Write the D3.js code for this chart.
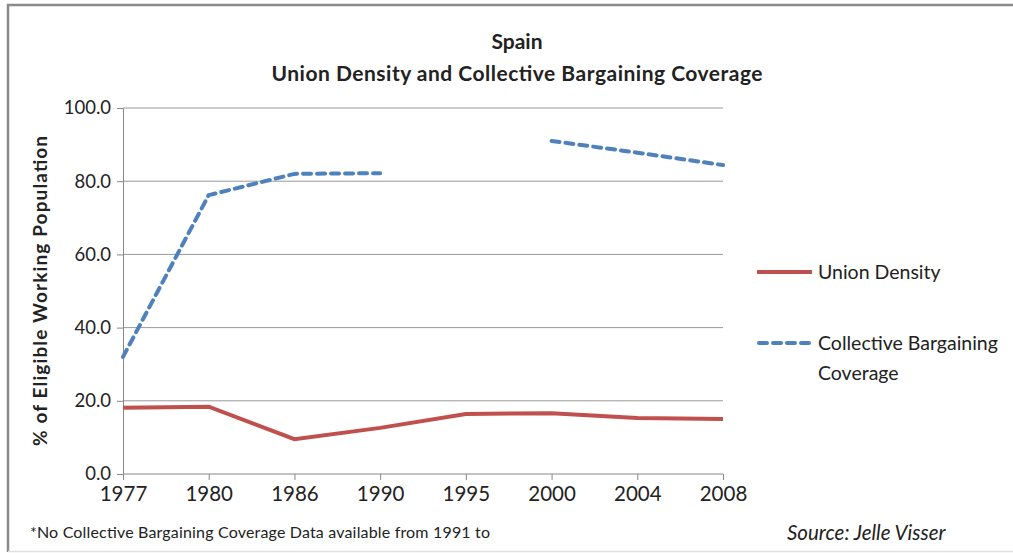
<!DOCTYPE html>
<html>
<head>
<meta charset="utf-8">
<script src="https://cdn.jsdelivr.net/npm/d3@7"></script>
<style>
  body { margin: 0; background: #fff; }
  text { font-family: Lato, "Open Sans", sans-serif; fill: #222; }
</style>
</head>
<body>
<script>
var years = ["1977", "1980", "1986", "1990", "1995", "2000", "2004", "2008"];
var unionDensity = [18.1, 18.4, 9.5, 12.6, 16.4, 16.6, 15.3, 15.0];
var bargaining = [32.0, 76.2, 82.0, 82.2, null, 91.0, 87.8, 84.4];
var yTicks = [0, 20, 40, 60, 80, 100];
var seriesNames = ["Union Density", "Collective Bargaining Coverage"];

var W = 1013, H = 553;
var margin = {top: 108, left: 123, right: 290, bottom: 79};
var width = W - margin.left - margin.right,
    height = H - margin.top - margin.bottom;

var svg = d3.select("body").append("svg")
    .attr("width", W)
    .attr("height", H);

// frame
svg.append("path")
   .attr("d", "M8,552 L8,5 L1013,5")
   .attr("fill", "none")
   .attr("stroke", "#8a8a8a")
   .attr("stroke-width", 2.5);
svg.append("line")
   .attr("x1", 8).attr("x2", 1013).attr("y1", 551.5).attr("y2", 551.5)
   .attr("stroke", "#e0e0e0").attr("stroke-width", 1.5);

var x = d3.scalePoint().domain(years).range([0, width]);
var y = d3.scaleLinear().domain([0, 100]).range([height, 0]);

var g = svg.append("g").attr("transform", "translate(" + margin.left + "," + margin.top + ")");

// gridlines
g.append("g").selectAll("line")
  .data(yTicks.slice(1))
  .enter().append("line")
  .attr("x1", 0).attr("x2", width)
  .attr("y1", function(d){ return y(d); })
  .attr("y2", function(d){ return y(d); })
  .attr("stroke", "#999").attr("stroke-width", 1);

var yAxis = g.append("g")
   .call(d3.axisLeft(y).tickValues(yTicks).tickFormat(d3.format(".1f")).tickSize(6).tickPadding(6));
yAxis.select(".domain").attr("stroke", "#888");
yAxis.selectAll(".tick line").attr("stroke", "#888");
yAxis.selectAll("text").style("font-size", "18.5px").attr("fill", "#222");

var xAxis = g.append("g")
   .attr("transform", "translate(0," + height + ")")
   .call(d3.axisBottom(x).tickSize(6).tickSizeOuter(0).tickPadding(6));
xAxis.select(".domain").attr("stroke", "#888").attr("d", "M0,0H" + width);
xAxis.selectAll(".tick line").attr("stroke", "#888");
xAxis.selectAll("text").style("font-size", "20.5px").attr("fill", "#222");

var line = d3.line()
   .defined(function(d){ return d != null; })
   .x(function(d, i){ return x(years[i]); })
   .y(function(d){ return y(d); });

g.append("path")
   .datum(unionDensity)
   .attr("d", line)
   .attr("fill", "none")
   .attr("stroke", "#c0504d")
   .attr("stroke-width", 4);

g.append("path")
   .datum(bargaining)
   .attr("d", line)
   .attr("fill", "none")
   .attr("stroke", "#4f81bd")
   .attr("stroke-width", 4)
   .attr("stroke-dasharray", "8,6")
   .attr("stroke-linecap", "round");

// titles
svg.append("text").attr("x", 517).attr("y", 49).attr("text-anchor", "middle")
   .style("font-size", "21px").style("font-weight", "bold").text("Spain");
svg.append("text").attr("x", 517).attr("y", 81).attr("text-anchor", "middle")
   .style("font-size", "21px").style("font-weight", "bold")
   .attr("textLength", 491).attr("lengthAdjust", "spacing")
   .text("Union Density and Collective Bargaining Coverage");

svg.append("text")
   .attr("transform", "translate(47," + (margin.top + height / 2) + ") rotate(-90)")
   .attr("text-anchor", "middle")
   .style("font-size", "19px").style("font-weight", "bold")
   .attr("textLength", 310).attr("lengthAdjust", "spacing")
   .text("% of Eligible Working Population");

// legend
var leg = svg.append("g").attr("transform", "translate(757,0)");
leg.append("line").attr("x1", 0).attr("x2", 55).attr("y1", 272).attr("y2", 272)
   .attr("stroke", "#c0504d").attr("stroke-width", 4);
leg.append("text").attr("x", 61).attr("y", 279).style("font-size", "19.5px").text(seriesNames[0]);
leg.append("line").attr("x1", 2).attr("x2", 55).attr("y1", 343).attr("y2", 343)
   .attr("stroke", "#4f81bd").attr("stroke-width", 4)
   .attr("stroke-dasharray", "8,6").attr("stroke-linecap", "round");
leg.append("text").attr("x", 61).attr("y", 350).style("font-size", "19.5px").text("Collective Bargaining");
leg.append("text").attr("x", 61).attr("y", 380).style("font-size", "19.5px").text("Coverage");

// notes
svg.append("text").attr("x", 30).attr("y", 538).style("font-size", "16px")
   .attr("textLength", 460).attr("lengthAdjust", "spacing")
   .text("*No Collective Bargaining Coverage Data  available from 1991 to");
svg.append("text").attr("x", 787).attr("y", 540).style("font-size", "20.5px").style("font-style", "italic")
   .text("Source: Jelle Visser");
</script>
</body>
</html>
